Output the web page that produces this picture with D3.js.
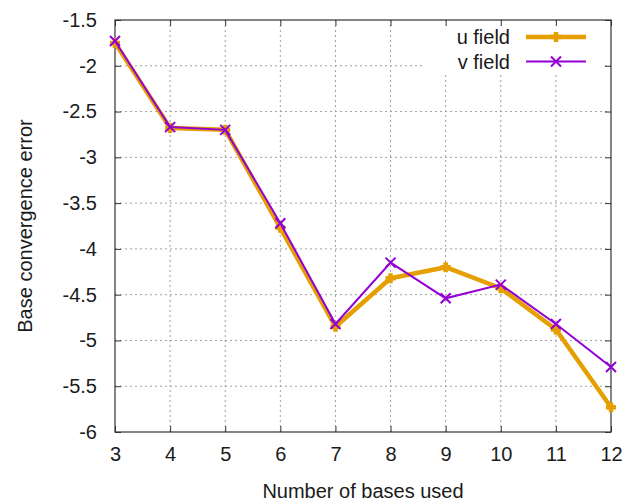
<!DOCTYPE html>
<html>
<head>
<meta charset="utf-8">
<script src="https://cdn.jsdelivr.net/npm/d3@7"></script>
<style>
  body { margin: 0; background: #fff; }
  text { font-family: "Liberation Sans", Arial, sans-serif; fill: #1a1a1a; }
</style>
</head>
<body>
<div id="chart"></div>
<script>
// data
var bases = [3, 4, 5, 6, 7, 8, 9, 10, 11, 12];
var uField = [-1.75, -2.68, -2.70, -3.77, -4.85, -4.32, -4.20, -4.43, -4.88, -5.73];
var vField = [-1.73, -2.67, -2.70, -3.72, -4.82, -4.15, -4.54, -4.39, -4.82, -5.29];
var yTicks = [-1.5, -2, -2.5, -3, -3.5, -4, -4.5, -5, -5.5, -6];

var W = 633, H = 504;
var margin = {top: 20, right: 22, bottom: 72, left: 115},
    width = W - margin.left - margin.right,
    height = H - margin.top - margin.bottom;

var fontSize = 20;

var svg = d3.select('#chart').append('svg')
    .attr('width', W)
    .attr('height', H);

var x = d3.scaleLinear().domain([3, 12]).range([0, width]);
var y = d3.scaleLinear().domain([-6, -1.5]).range([height, 0]);

var g = svg.append('g')
    .attr('transform', 'translate(' + margin.left + ',' + margin.top + ')');

// grid
g.append('g').selectAll('line')
    .data(bases.slice(1, -1))
    .enter().append('line')
    .attr('x1', d => x(d)).attr('x2', d => x(d))
    .attr('y1', 0).attr('y2', height)
    .attr('stroke', '#a0a0a0').attr('stroke-width', 1)
    .attr('stroke-dasharray', '2,3');

g.append('g').selectAll('line')
    .data(yTicks.slice(1, -1))
    .enter().append('line')
    .attr('x1', 0).attr('x2', width)
    .attr('y1', d => y(d)).attr('y2', d => y(d))
    .attr('stroke', '#a0a0a0').attr('stroke-width', 1)
    .attr('stroke-dasharray', '2,3');

// legend background hides grid
var legX = x(8.6);
g.append('rect')
    .attr('x', legX).attr('y', 1)
    .attr('width', width - legX - 9).attr('height', 54)
    .attr('fill', '#fff');

// axes (gnuplot style: inward ticks, mirrored)
var tick = 6;
var plain = d => String(d);
var axBottom = g.append('g')
    .attr('transform', 'translate(0,' + height + ')')
    .call(d3.axisBottom(x).tickValues(bases).tickSize(-tick).tickPadding(15).tickFormat(plain));
var axTop = g.append('g')
    .call(d3.axisTop(x).tickValues(bases).tickSize(-tick).tickFormat(''));
var axLeft = g.append('g')
    .call(d3.axisLeft(y).tickValues(yTicks).tickSize(-tick).tickPadding(18).tickFormat(plain));
var axRight = g.append('g')
    .attr('transform', 'translate(' + width + ',0)')
    .call(d3.axisRight(y).tickValues(yTicks).tickSize(-tick).tickFormat(''));

[axBottom, axTop, axLeft, axRight].forEach(function(a) {
    a.select('.domain').remove();
    a.selectAll('line').attr('stroke', '#333');
    a.selectAll('text').attr('font-size', fontSize).attr('fill', '#1a1a1a')
        .style('font-family', '"Liberation Sans", Arial, sans-serif');
});

g.append('rect')
    .attr('width', width).attr('height', height)
    .attr('fill', 'none').attr('stroke', '#333').attr('stroke-width', 1.2);

// series
var line = d3.line()
    .x(d => x(d[0]))
    .y(d => y(d[1]));

var uData = bases.map((b, i) => [b, uField[i]]);
var vData = bases.map((b, i) => [b, vField[i]]);

var uColor = '#e69f00', vColor = '#9400d3';

g.append('path').datum(uData)
    .attr('d', line).attr('fill', 'none')
    .attr('stroke', uColor).attr('stroke-width', 4.5).attr('stroke-linejoin', 'round');

g.selectAll('path.up').data(uData).enter().append('path')
    .attr('d', d => 'M' + (x(d[0]) - 5) + ',' + y(d[1]) + 'h10M' + x(d[0]) + ',' + (y(d[1]) - 5) + 'v10')
    .attr('stroke', uColor).attr('stroke-width', 4.5);

g.append('path').datum(vData)
    .attr('d', line).attr('fill', 'none')
    .attr('stroke', vColor).attr('stroke-width', 2);

g.selectAll('path.vp').data(vData).enter().append('path')
    .attr('d', d => {
        var cx = x(d[0]), cy = y(d[1]), s = 5;
        return 'M' + (cx - s) + ',' + (cy - s) + 'L' + (cx + s) + ',' + (cy + s) +
               'M' + (cx - s) + ',' + (cy + s) + 'L' + (cx + s) + ',' + (cy - s);
    })
    .attr('stroke', vColor).attr('stroke-width', 2);

// legend
var legend = [
    {name: 'u field', color: uColor, w: 4.5, mark: '+'},
    {name: 'v field', color: vColor, w: 2, mark: 'x'}
];
var lg = g.selectAll('g.leg').data(legend).enter().append('g')
    .attr('transform', (d, i) => 'translate(0,' + (17 + i * 24.5) + ')');
lg.append('text')
    .attr('x', 395).attr('y', 7)
    .attr('text-anchor', 'end').attr('font-size', fontSize)
    .text(d => d.name);
lg.append('line')
    .attr('x1', 411).attr('x2', 471).attr('y1', 0).attr('y2', 0)
    .attr('stroke', d => d.color).attr('stroke-width', d => d.w);
lg.append('path')
    .attr('d', d => d.mark === '+'
        ? 'M436,0h10M441,-5v10'
        : 'M436,-5L446,5M436,5L446,-5')
    .attr('stroke', d => d.color).attr('stroke-width', d => d.w);

// axis titles
svg.append('text')
    .attr('x', margin.left + width / 2).attr('y', 498)
    .attr('text-anchor', 'middle').attr('font-size', fontSize)
    .text('Number of bases used');

svg.append('text')
    .attr('transform', 'translate(32,' + (margin.top + height / 2) + ') rotate(-90)')
    .attr('text-anchor', 'middle').attr('font-size', fontSize)
    .text('Base convergence error');
</script>
</body>
</html>
